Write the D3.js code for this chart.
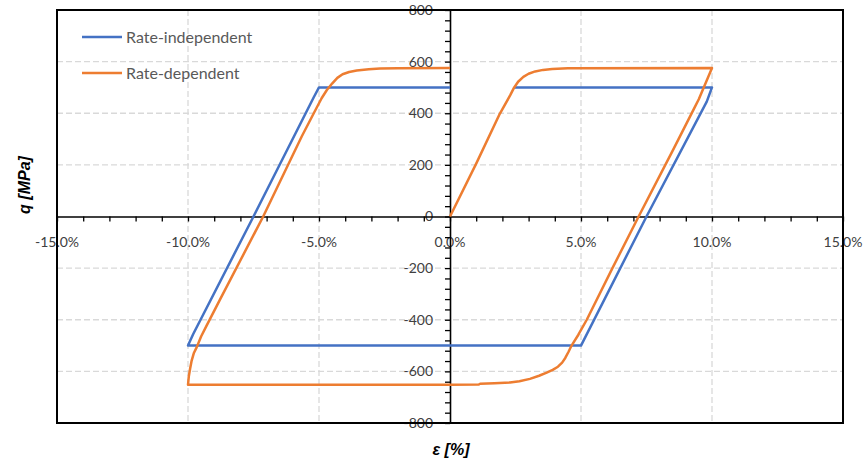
<!DOCTYPE html>
<html>
<head>
<meta charset="utf-8">
<script src="https://cdn.jsdelivr.net/npm/d3@7"></script>
<style>
  body { margin: 0; background: #fff; }
  svg { display: block; }
</style>
</head>
<body>
<svg id="chart"></svg>
<script>
/* CONSTANTS AND GLOBALS */
const width = 868,
  height = 463,
  margin = { top: 10, bottom: 40, left: 57, right: 25 };

// data: [strain %, q MPa]
// (blue initial loading lies under the orange one, so it starts at the yield point)
const rateIndependent = [
  [2.45, 500], [10, 500],
  [9.8, 445], [7.5, 0], [5, -500],
  [-10, -500], [-9.8, -455], [-7.5, 0], [-5.2, 462], [-5, 500], [0, 500]
];

const rateDependent = [
  [0, 0], [1.0, 205], [1.9, 398], [2.3, 470], [2.45, 500], [2.6, 522],
  [2.8, 541], [3.0, 553], [3.25, 562], [3.55, 568], [3.9, 571], [4.5, 574],
  [10, 575],
  [9.5, 455], [9.29, 413], [8.5, 255], [7.2, 0], [6.2, -200],
  [5.22, -400], [4.9, -458], [4.64, -500], [4.52, -525], [4.4, -548],
  [4.28, -566], [4.12, -582], [3.92, -594], [3.69, -605], [3.4, -617],
  [3.05, -629], [2.65, -638], [2.29, -643], [1.7, -646], [1.15, -648],
  [1.1, -651],
  [0, -652], [-10, -652], [-9.97, -620], [-9.92, -590], [-9.86, -558],
  [-9.78, -530], [-9.67, -507], [-9.5, -465], [-9.29, -423], [-8.78, -322],
  [-7.13, 0], [-5.66, 310], [-5.2, 400], [-4.9, 458], [-4.7, 490],
  [-4.5, 515], [-4.3, 537], [-4.1, 551], [-3.85, 560], [-3.56, 566],
  [-3.1, 570], [-2.67, 573], [-2, 574.5], [0, 575]
];

const series = [
  { name: "Rate-independent", color: "#4472C4", values: rateIndependent },
  { name: "Rate-dependent", color: "#ED7D31", values: rateDependent }
];

const xMajor = [-15, -10, -5, 0, 5, 10, 15];
const yMajor = [800, 600, 400, 200, 0, -200, -400, -600, -800];
const xGrid = [-10, -5, 5, 10];
const yGrid = [600, 400, 200, -200, -400, -600];

const svg = d3.select("#chart")
  .attr("width", width)
  .attr("height", height);

const x = d3.scaleLinear()
  .domain([-15, 15])
  .range([margin.left, width - margin.right]);

const y = d3.scaleLinear()
  .domain([-800, 800])
  .range([height - margin.bottom, margin.top]);

// gridlines (dashed)
svg.append("g")
  .selectAll("line")
  .data(xGrid)
  .join("line")
    .attr("x1", d => x(d)).attr("x2", d => x(d))
    .attr("y1", y(800)).attr("y2", y(-800))
    .attr("stroke", "#d9d9d9")
    .attr("stroke-width", 1.3)
    .attr("stroke-dasharray", "6,3");

svg.append("g")
  .selectAll("line")
  .data(yGrid)
  .join("line")
    .attr("x1", x(-15)).attr("x2", x(15))
    .attr("y1", d => y(d)).attr("y2", d => y(d))
    .attr("stroke", "#d9d9d9")
    .attr("stroke-width", 1.3)
    .attr("stroke-dasharray", "6,3");

// tick labels (drawn under the axis lines, like the original)
const labelFont = "Lato, 'Open Sans', sans-serif";

svg.append("g")
  .selectAll("text")
  .data(xMajor)
  .join("text")
    .attr("x", d => x(d))
    .attr("y", y(0) + 30)
    .attr("text-anchor", "middle")
    .attr("font-family", labelFont)
    .attr("font-size", 14)
    .attr("fill", "#404040")
    .text(d => d3.format(".1f")(d).replace("−", "-") + "%");

svg.append("g")
  .selectAll("text")
  .data(yMajor)
  .join("text")
    .attr("x", x(0) - 17)
    .attr("y", d => y(d))
    .attr("dy", "0.35em")
    .attr("text-anchor", "end")
    .attr("font-family", labelFont)
    .attr("font-size", 14)
    .attr("fill", "#404040")
    .text(d => d);

// axes through the origin, minor ticks only
const xAxis = d3.axisBottom(x)
  .tickValues(d3.range(-15, 16, 1))
  .tickSize(5)
  .tickSizeOuter(0)
  .tickFormat("");

const yAxis = d3.axisLeft(y)
  .tickValues(d3.range(-800, 801, 40))
  .tickSize(5)
  .tickSizeOuter(0)
  .tickFormat("");

const gx = svg.append("g")
  .attr("transform", `translate(0,${y(0)})`)
  .call(xAxis);

const gy = svg.append("g")
  .attr("transform", `translate(${x(0)},0)`)
  .call(yAxis);

[gx, gy].forEach(g => {
  g.select(".domain").attr("stroke", "#000").attr("stroke-width", 1.6);
  g.selectAll(".tick line").attr("stroke", "#000").attr("stroke-width", 1.3);
});

// plot frame
svg.append("rect")
  .attr("x", x(-15))
  .attr("y", y(800))
  .attr("width", x(15) - x(-15))
  .attr("height", y(-800) - y(800))
  .attr("fill", "none")
  .attr("stroke", "#000")
  .attr("stroke-width", 2);

// series
const line = d3.line()
  .x(d => x(d[0]))
  .y(d => y(d[1]));

svg.append("g")
  .selectAll("path")
  .data(series)
  .join("path")
    .attr("d", d => line(d.values))
    .attr("fill", "none")
    .attr("stroke", d => d.color)
    .attr("stroke-width", 2.5)
    .attr("stroke-linejoin", "round");

// legend
const legend = svg.append("g")
  .selectAll("g")
  .data(series)
  .join("g")
    .attr("transform", (d, i) => `translate(82,${37 + i * 36})`);

legend.append("line")
  .attr("x1", 0).attr("x2", 40)
  .attr("stroke", d => d.color)
  .attr("stroke-width", 2.5);

legend.append("text")
  .attr("x", 44)
  .attr("dy", "0.35em")
  .attr("font-family", labelFont)
  .attr("font-size", 16)
  .attr("fill", "#595959")
  .text(d => d.name);

// axis titles
svg.append("text")
  .attr("transform", "translate(30,185) rotate(-90)")
  .attr("text-anchor", "middle")
  .attr("font-family", "'Liberation Sans', Arial, sans-serif")
  .attr("font-size", 16)
  .attr("font-weight", "bold")
  .attr("font-style", "italic")
  .attr("fill", "#000")
  .text("q [MPa]");

svg.append("text")
  .attr("x", 451)
  .attr("y", 455)
  .attr("text-anchor", "middle")
  .attr("font-family", "'Liberation Sans', Arial, sans-serif")
  .attr("font-size", 16)
  .attr("font-weight", "bold")
  .attr("font-style", "italic")
  .attr("fill", "#000")
  .text("ε [%]");
</script>
</body>
</html>
